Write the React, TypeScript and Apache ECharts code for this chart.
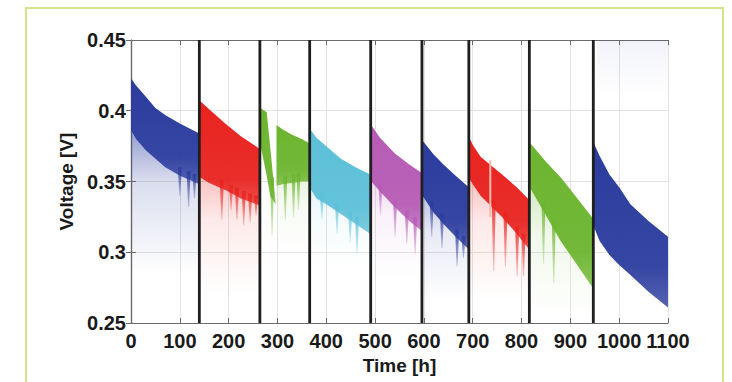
import React, { useEffect, useRef } from "react";
import * as echarts from "echarts";

// Measurement periods: [time (h)] with upper / lower edge of the dense voltage band (V)
const seg1Time = [0, 10, 30, 50, 70, 100, 140];
const seg1Upper = [0.423, 0.418, 0.41, 0.402, 0.397, 0.391, 0.384];
const seg1Lower = [0.386, 0.38, 0.372, 0.366, 0.36, 0.354, 0.348];

const seg2Time = [141, 160, 193, 225, 264];
const seg2Upper = [0.407, 0.401, 0.391, 0.382, 0.373];
const seg2Lower = [0.353, 0.349, 0.344, 0.338, 0.333];

const seg3aTime = [265, 278, 285, 296];
const seg3aUpper = [0.402, 0.399, 0.375, 0.336];
const seg3aLower = [0.376, 0.354, 0.34, 0.334];

const seg3bTime = [298, 310, 330, 350, 365];
const seg3bUpper = [0.39, 0.387, 0.383, 0.38, 0.377];
const seg3bLower = [0.347, 0.348, 0.349, 0.35, 0.35];

const seg4Time = [367, 380, 400, 430, 460, 490];
const seg4Upper = [0.387, 0.381, 0.375, 0.366, 0.36, 0.355];
const seg4Lower = [0.345, 0.338, 0.334, 0.327, 0.32, 0.313];

const seg5Time = [492, 510, 540, 570, 596];
const seg5Upper = [0.39, 0.381, 0.37, 0.362, 0.356];
const seg5Lower = [0.35, 0.343, 0.332, 0.322, 0.315];

const seg6Time = [597, 620, 640, 665, 692];
const seg6Upper = [0.379, 0.369, 0.362, 0.354, 0.346];
const seg6Lower = [0.34, 0.328, 0.32, 0.311, 0.302];

const seg7Time = [693, 700, 716, 760, 790, 816];
const seg7Upper = [0.381, 0.376, 0.3675, 0.355, 0.346, 0.337];
const seg7Lower = [0.352, 0.348, 0.34, 0.325, 0.313, 0.302];

const seg8Time = [818, 850, 880, 910, 946];
const seg8Upper = [0.377, 0.364, 0.353, 0.34, 0.324];
const seg8Lower = [0.345, 0.326, 0.308, 0.293, 0.275];

const seg9Time = [948, 960, 980, 1000, 1023, 1060, 1100];
const seg9Upper = [0.377, 0.368, 0.355, 0.346, 0.334, 0.322, 0.311];
const seg9Lower = [0.318, 0.308, 0.298, 0.291, 0.284, 0.272, 0.261];

// Downward spikes below the bands: [time, lowest voltage]
const seg1Streaks = [[100, 0.34], [118, 0.332], [130, 0.338]];
const seg2Streaks = [[186, 0.323], [205, 0.33], [217, 0.323], [231, 0.319], [244, 0.321], [256, 0.326]];
const seg3Streaks = [[289, 0.312], [316, 0.323], [333, 0.325], [343, 0.33]];
const seg4Streaks = [[391, 0.323], [422, 0.313], [449, 0.307], [463, 0.299]];
const seg5Streaks = [[511, 0.327], [541, 0.311], [565, 0.306], [582, 0.299]];
const seg6Streaks = [[616, 0.311], [637, 0.303], [668, 0.29], [681, 0.296]];
const seg7Streaks = [[743, 0.287], [767, 0.29], [791, 0.283], [804, 0.283]];
const seg8Streaks = [[845, 0.292], [866, 0.278]];
// Pale gap inside the seventh period: [time, top, bottom]
const seg7Gap = [736, 0.365, 0.325];

// Period boundaries (h)
const separatorTimes = [140, 264, 366, 491, 596, 692, 816, 947];

const BLUE = "#2b3c9e";
const RED = "#e8231f";
const GREEN = "#6cb52f";
const CYAN = "#5cc0d8";
const MAGENTA = "#b65bb5";

const FONT = '"Liberation Sans", Arial, Helvetica, sans-serif';

function rgba(hex: string, a: number) {
  const n = parseInt(hex.slice(1), 16);
  return `rgba(${(n >> 16) & 255},${(n >> 8) & 255},${n & 255},${a})`;
}

function interp(ts: number[], vs: number[], t: number) {
  if (t <= ts[0]) return vs[0];
  for (let i = 1; i < ts.length; i++) {
    if (t <= ts[i]) {
      const f = (t - ts[i - 1]) / (ts[i] - ts[i - 1]);
      return vs[i - 1] + f * (vs[i] - vs[i - 1]);
    }
  }
  return vs[vs.length - 1];
}

type Segment = {
  time: number[];
  upper: number[];
  lower: number[];
  color: string;
  haze: number;
  floor: number;
  streaks: number[][];
};

const segments: Segment[] = [
  { time: seg1Time, upper: seg1Upper, lower: seg1Lower, color: BLUE, haze: 0.5, floor: 0.285, streaks: seg1Streaks },
  { time: seg2Time, upper: seg2Upper, lower: seg2Lower, color: RED, haze: 0.28, floor: 0.27, streaks: seg2Streaks },
  { time: seg3aTime, upper: seg3aUpper, lower: seg3aLower, color: GREEN, haze: 0, floor: 0.3, streaks: [] },
  { time: seg3bTime, upper: seg3bUpper, lower: seg3bLower, color: GREEN, haze: 0.15, floor: 0.3, streaks: seg3Streaks },
  { time: seg4Time, upper: seg4Upper, lower: seg4Lower, color: CYAN, haze: 0.18, floor: 0.29, streaks: seg4Streaks },
  { time: seg5Time, upper: seg5Upper, lower: seg5Lower, color: MAGENTA, haze: 0.22, floor: 0.28, streaks: seg5Streaks },
  { time: seg6Time, upper: seg6Upper, lower: seg6Lower, color: BLUE, haze: 0.3, floor: 0.265, streaks: seg6Streaks },
  { time: seg7Time, upper: seg7Upper, lower: seg7Lower, color: RED, haze: 0.28, floor: 0.265, streaks: seg7Streaks },
  { time: seg8Time, upper: seg8Upper, lower: seg8Lower, color: GREEN, haze: 0.28, floor: 0.255, streaks: seg8Streaks },
  { time: seg9Time, upper: seg9Upper, lower: seg9Lower, color: BLUE, haze: 0, floor: 0.25, streaks: [] },
];

function bandSeries(s: Segment, extra?: (api: any) => any[]) {
  return {
    type: "custom",
    clip: true,
    z: 3,
    silent: true,
    data: [[s.time[0], s.upper[0]]],
    renderItem: (_params: any, api: any) => {
      const children: any[] = [];
      if (s.haze > 0) {
        const hazePts = [
          ...s.time.map((t, i) => api.coord([t, s.lower[i]])),
          ...s.time.slice().reverse().map((t) => api.coord([t, s.floor])),
        ];
        children.push({
          type: "polygon",
          shape: { points: hazePts },
          style: {
            fill: new echarts.graphic.LinearGradient(0, 0, 0, 1, [
              { offset: 0, color: rgba(s.color, s.haze) },
              { offset: 0.35, color: rgba(s.color, s.haze * 0.35) },
              { offset: 1, color: rgba(s.color, 0) },
            ]),
          },
        });
      }
      // tapered spikes hanging from the lower edge
      for (const [t, bottom] of s.streaks) {
        const top = api.coord([t, interp(s.time, s.lower, t) + 0.006]);
        const bot = api.coord([t, bottom]);
        children.push({
          type: "polygon",
          shape: {
            points: [
              [top[0] - 2, top[1]],
              [top[0] + 2, top[1]],
              [bot[0] + 0.5, bot[1]],
              [bot[0] - 0.5, bot[1]],
            ],
          },
          style: {
            fill: new echarts.graphic.LinearGradient(0, 0, 0, 1, [
              { offset: 0, color: rgba(s.color, 0.85) },
              { offset: 1, color: rgba(s.color, 0.25) },
            ]),
          },
        });
      }
      const bandPts = [
        ...s.time.map((t, i) => api.coord([t, s.upper[i]])),
        ...s.time.slice().reverse().map((t, i) => api.coord([t, s.lower[s.lower.length - 1 - i]])),
      ];
      children.push({
        type: "polygon",
        shape: { points: bandPts },
        style: {
          fill: new echarts.graphic.LinearGradient(0, 0, 0, 1, [
            { offset: 0, color: s.color },
            { offset: 0.75, color: rgba(s.color, 0.95) },
            { offset: 1, color: rgba(s.color, 0.8) },
          ]),
        },
      });
      if (extra) children.push(...extra(api));
      return { type: "group", children };
    },
  };
}

export default function App() {
  const ref = useRef<HTMLDivElement>(null);

  useEffect(() => {
    if (!ref.current) return;
    const chart = echarts.init(ref.current, null, { renderer: "svg" });

    const axisLabelStyle = { fontFamily: FONT, fontWeight: "bold" as const, fontSize: 20, color: "#1a1a1a" };
    const gridLine = { show: true, lineStyle: { color: "#e3e3e3", width: 1 } };
    const axisLine = { show: true, lineStyle: { color: "#6a6a6a", width: 1.2 } };
    const tick = { show: true, inside: true, length: 5, lineStyle: { color: "#6a6a6a" } };

    const series: any[] = segments.map((s, k) =>
      bandSeries(
        s,
        k === 7
          ? (api: any) => {
              const a = api.coord([seg7Gap[0], seg7Gap[1]]);
              const b = api.coord([seg7Gap[0], seg7Gap[2]]);
              return [
                {
                  type: "line",
                  shape: { x1: a[0], y1: a[1], x2: b[0], y2: b[1] },
                  style: { stroke: "#f7b8b0", lineWidth: 2 },
                },
              ];
            }
          : k === 9
          ? (api: any) => {
              const p1 = api.coord([955, 0.45]);
              const p2 = api.coord([1100, 0.41]);
              return [
                {
                  type: "rect",
                  shape: { x: p1[0], y: p1[1], width: p2[0] - p1[0], height: p2[1] - p1[1] },
                  style: {
                    fill: new echarts.graphic.LinearGradient(0, 0, 0, 1, [
                      { offset: 0, color: rgba(BLUE, 0.06) },
                      { offset: 1, color: rgba(BLUE, 0) },
                    ]),
                  },
                },
              ];
            }
          : undefined
      )
    );

    series.push({
      type: "custom",
      z: 5,
      silent: true,
      data: separatorTimes.map((t) => [t, 0.35]),
      renderItem: (_params: any, api: any) => {
        const t = api.value(0);
        const a = api.coord([t, 0.45]);
        const b = api.coord([t, 0.25]);
        return {
          type: "line",
          shape: { x1: a[0], y1: a[1], x2: b[0], y2: b[1] },
          style: { stroke: "#1f1f1f", lineWidth: 2.8 },
        };
      },
    });

    chart.setOption({
      animation: false,
      backgroundColor: "transparent",
      grid: { left: 131, top: 40, right: 64, bottom: 59, containLabel: false },
      xAxis: [
        {
          type: "value",
          min: 0,
          max: 1100,
          interval: 100,
          position: "bottom",
          axisLine,
          axisTick: tick,
          splitLine: gridLine,
          axisLabel: { ...axisLabelStyle, margin: 8, formatter: (v: number) => String(Math.round(v)) },
          name: "Time [h]",
          nameLocation: "middle",
          nameGap: 29,
          nameTextStyle: { fontFamily: FONT, fontWeight: "bold", fontSize: 19, color: "#1a1a1a" },
        },
        {
          type: "value",
          min: 0,
          max: 1100,
          interval: 100,
          position: "top",
          axisLine,
          axisTick: tick,
          splitLine: { show: false },
          axisLabel: { show: false },
        },
      ],
      yAxis: [
        {
          type: "value",
          min: 0.25,
          max: 0.45,
          interval: 0.05,
          position: "left",
          axisLine,
          axisTick: tick,
          splitLine: gridLine,
          axisLabel: {
            ...axisLabelStyle,
            margin: 5,
            formatter: (v: number) => String(Number(v.toFixed(2))),
          },
          name: "Voltage [V]",
          nameLocation: "middle",
          nameGap: 55,
          nameRotate: 90,
          nameTextStyle: { fontFamily: FONT, fontWeight: "bold", fontSize: 19, color: "#1a1a1a" },
        },
        {
          type: "value",
          min: 0.25,
          max: 0.45,
          interval: 0.05,
          position: "right",
          axisLine,
          axisTick: tick,
          splitLine: { show: false },
          axisLabel: { show: false },
        },
      ],
      series,
    });

    return () => chart.dispose();
  }, []);

  return (
    <div
      style={{
        position: "fixed",
        left: 0,
        top: 0,
        width: 732,
        height: 382,
        background: "#ffffff",
        overflow: "hidden",
      }}
    >
      <div
        style={{
          position: "absolute",
          left: 25,
          top: 7,
          width: 699,
          height: 420,
          boxSizing: "border-box",
          border: "2px solid #d4e289",
        }}
      />
      <div ref={ref} style={{ position: "absolute", left: 0, top: 0, width: 732, height: 382 }} />
    </div>
  );
}
